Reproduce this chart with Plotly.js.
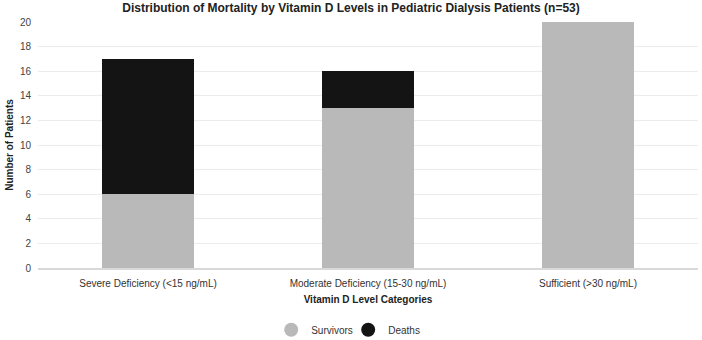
<!DOCTYPE html>
<html>
<head>
<meta charset="utf-8">
<script src="https://cdn.plot.ly/plotly-3.0.1.min.js"></script>
<style>
  html, body { margin: 0; padding: 0; background: #ffffff; }
  #chart { width: 702px; height: 340px; }
</style>
</head>
<body>
<div id="chart"></div>
<script>
// Vitamin D level groups and patient outcomes (n = 53)
const categories = [
  "Severe Deficiency (<15 ng/mL)",
  "Moderate Deficiency (15-30 ng/mL)",
  "Sufficient (>30 ng/mL)"
];
const survivors = [6, 13, 20];
const deaths = [11, 3, 0];

const survivorColor = "#b9b9b9";
const deathColor = "#141414";
const fontFamily = "'Liberation Sans', Arial, sans-serif";

const traces = [
  {
    type: "bar", name: "Survivors", x: categories, y: survivors,
    marker: { color: survivorColor }, showlegend: false
  },
  {
    type: "bar", name: "Deaths", x: categories, y: deaths,
    marker: { color: deathColor }, showlegend: false
  },
  // round legend swatches
  {
    type: "scatter", mode: "markers", name: "Survivors", x: [null], y: [null],
    marker: { color: survivorColor, size: 14, symbol: "circle" }
  },
  {
    type: "scatter", mode: "markers", name: "Deaths", x: [null], y: [null],
    marker: { color: deathColor, size: 14, symbol: "circle" }
  }
];

const layout = {
  width: 702, height: 340,
  barmode: "stack",
  bargap: 0.58,
  paper_bgcolor: "#ffffff",
  plot_bgcolor: "#ffffff",
  font: { family: fontFamily, size: 10, color: "#333333" },
  margin: { l: 38, r: 4, t: 22, b: 72, autoexpand: false },
  title: {
    text: "<b>Distribution of Mortality by Vitamin D Levels in Pediatric Dialysis Patients (n=53)</b>",
    font: { family: fontFamily, size: 12, color: "#222222" },
    x: 0.5, xanchor: "center", y: 0.988, yanchor: "top"
  },
  xaxis: {
    type: "category",
    automargin: false,
    showgrid: false,
    showline: true, linecolor: "#d9d9d9", linewidth: 2,
    ticks: "outside", ticklen: 5, tickcolor: "rgba(0,0,0,0)",
    tickfont: { size: 10, color: "#333333" },
    title: {
      text: "<b>Vitamin D Level Categories</b>",
      font: { size: 10, color: "#222222" }, standoff: 8
    }
  },
  yaxis: {
    range: [0, 20], dtick: 2,
    automargin: false,
    showgrid: true, gridcolor: "#ececec", gridwidth: 1,
    zeroline: false, showline: false,
    ticks: "outside", ticklen: 4, tickcolor: "rgba(0,0,0,0)",
    tickfont: { size: 10, color: "#444444" },
    title: {
      text: "<b>Number of Patients</b>",
      font: { size: 10, color: "#222222" }, standoff: 4
    }
  },
  legend: {
    orientation: "h", x: 0.47, xanchor: "center", y: -0.192, yanchor: "top",
    traceorder: "normal",
    entrywidth: 32, entrywidthmode: "pixels",
    font: { size: 10, color: "#333333" }, itemwidth: 30
  }
};

Plotly.newPlot("chart", traces, layout, { staticPlot: true, displayModeBar: false });
</script>
</body>
</html>
